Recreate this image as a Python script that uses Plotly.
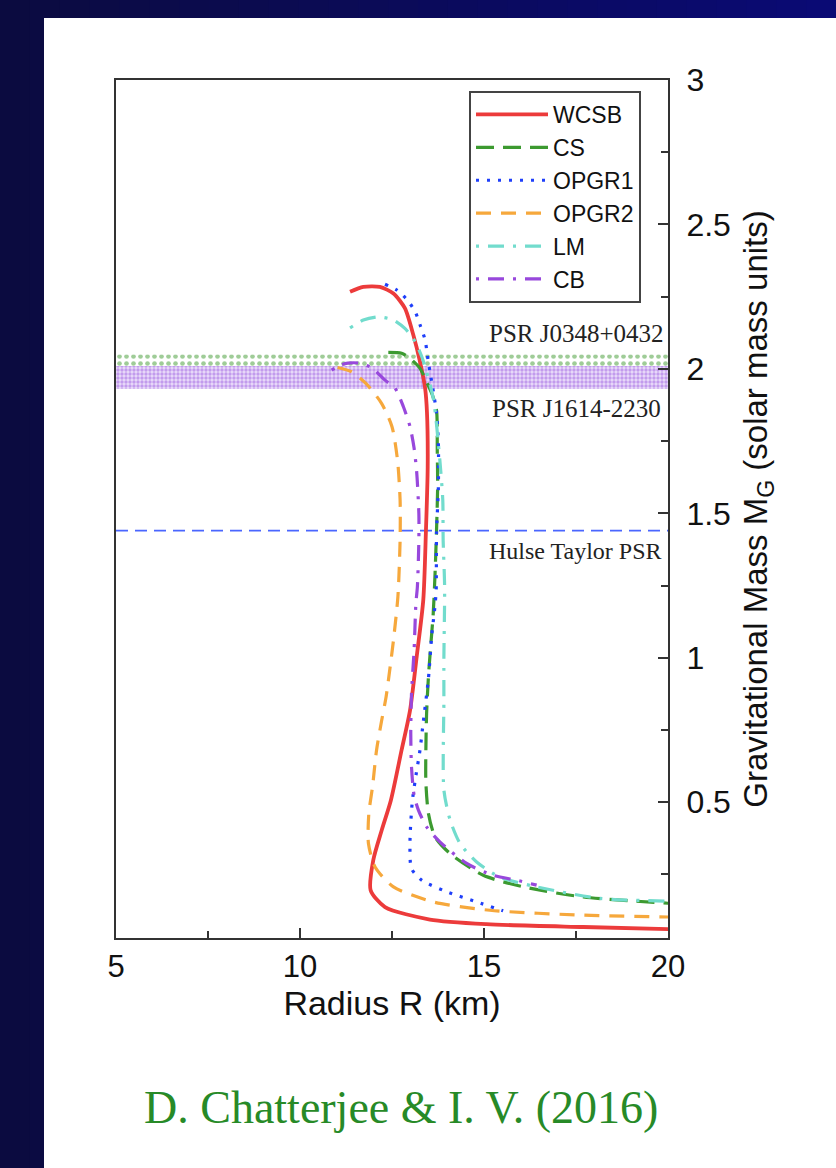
import plotly.graph_objects as go

# Mass-radius sequences (R in km, M in solar masses), high-mass end first
wcsb_r = [11.36, 11.72, 12.17, 12.54, 12.85, 13.08, 13.26, 13.40, 13.45, 13.47, 13.42, 13.35,
          13.17, 12.99, 12.76, 12.47, 12.22, 11.99, 11.92, 12.31, 13.53, 15.07, 17.70, 20.3]
wcsb_m = [2.267, 2.284, 2.284, 2.261, 2.21, 2.117, 2.025, 1.933, 1.85, 1.66, 1.431, 1.20,
          1.003, 0.818, 0.680, 0.507, 0.403, 0.299, 0.195, 0.137, 0.094, 0.078, 0.068, 0.060]

cs_r = [12.40, 12.76, 12.99, 13.26, 13.44, 13.60, 13.71, 13.73, 13.74, 13.71, 13.67, 13.62,
        13.55, 13.49, 13.44, 13.42, 13.42, 13.49, 13.67, 14.08, 14.98, 16.07, 17.70, 20.3]
cs_m = [2.057, 2.054, 2.036, 2.002, 1.955, 1.909, 1.857, 1.719, 1.592, 1.442, 1.292, 1.153,
        1.038, 0.934, 0.807, 0.68, 0.57, 0.461, 0.38, 0.322, 0.247, 0.207, 0.172, 0.148]

opgr1_r = [12.31, 12.63, 12.92, 13.13, 13.28, 13.40, 13.46, 13.53, 13.60, 13.71, 13.76, 13.76,
           13.71, 13.70, 13.67, 13.58, 13.49, 13.35, 13.26, 13.13, 13.05, 12.99, 13.03, 13.31,
           13.99, 14.80, 15.52]
opgr1_m = [2.293, 2.273, 2.238, 2.198, 2.146, 2.10, 2.048, 1.99, 1.94, 1.846, 1.743, 1.592,
           1.431, 1.234, 1.182, 1.078, 0.928, 0.778, 0.68, 0.576, 0.50, 0.368, 0.27, 0.23,
           0.19, 0.155, 0.124]

opgr2_r = [11.02, 11.40, 11.79, 12.22, 12.50, 12.65, 12.72, 12.72, 12.66, 12.54, 12.45, 12.34,
           12.22, 12.08, 11.97, 11.87, 11.86, 12.04, 12.54, 13.62, 15.16, 17.70, 20.3]
opgr2_m = [2.005, 1.99, 1.95, 1.88, 1.80, 1.684, 1.546, 1.407, 1.211, 1.061, 0.969, 0.865,
           0.784, 0.68, 0.553, 0.461, 0.357, 0.276, 0.207, 0.155, 0.126, 0.109, 0.102]

lm_r = [11.36, 11.72, 12.13, 12.54, 12.85, 13.13, 13.31, 13.44, 13.63, 13.80, 13.88, 13.89,
        13.93, 13.91, 13.91, 13.91, 14.08, 14.35, 14.80, 15.43, 16.43, 18.15, 20.3]
lm_m = [2.142, 2.169, 2.18, 2.169, 2.14, 2.094, 2.042, 1.99, 1.892, 1.684, 1.546, 1.407,
        1.246, 1.0, 0.853, 0.542, 0.438, 0.357, 0.293, 0.241, 0.207, 0.167, 0.157]

cb_r = [10.86, 11.09, 11.30, 11.60, 11.96, 12.31, 12.58, 12.81, 12.99, 13.10, 13.17, 13.23,
        13.23, 13.19, 13.15, 13.10, 13.03, 13.01, 13.03, 13.10, 13.22, 13.44, 13.80, 14.53,
        15.25, 15.89, 16.43]
cb_m = [1.996, 2.013, 2.02, 2.02, 2.003, 1.961, 1.934, 1.869, 1.80, 1.726, 1.644, 1.50,
        1.407, 1.246, 1.189, 1.026, 0.876, 0.738, 0.622, 0.524, 0.472, 0.415, 0.363, 0.288,
        0.247, 0.23, 0.213]

# Observed pulsar masses
psr_j0348 = (2.01, 0.04)
psr_j1614 = (1.97, 0.04)
hulse_taylor = 1.44

R_MIN, R_MAX = 5, 20
M_MIN, M_MAX = 0.03, 3

series = [
    ("WCSB", wcsb_r, wcsb_m, "#ec3b3b", "solid", 3.8),
    ("CS", cs_r, cs_m, "#3c9a30", "18px,9px", 3.2),
    ("OPGR1", opgr1_r, opgr1_m, "#1f3ffa", "3px,8px", 3.2),
    ("OPGR2", opgr2_r, opgr2_m, "#f6a83c", "15px,10px", 3.2),
    ("LM", lm_r, lm_m, "#72dccd", "3px,9px,16px,9px", 3.2),
    ("CB", cb_r, cb_m, "#9848dc", "3px,9px,16px,9px", 3.2),
]

fig = go.Figure()


# Mass bands of the two heavy pulsars
def band(center, err, color, bg, size, solidity):
    lo, hi = center - err, center + err
    fig.add_trace(go.Scatter(
        x=[R_MIN, R_MAX, R_MAX, R_MIN, R_MIN], y=[lo, lo, hi, hi, lo],
        mode="lines", line=dict(width=0), fill="toself", fillcolor="rgba(255,255,255,0)",
        fillpattern=dict(shape=".", fgcolor=color, bgcolor=bg, size=size, solidity=solidity),
        showlegend=False, hoverinfo="skip"))


band(*psr_j0348, "#3f9a30", "rgba(255,255,255,0)", 7, 0.35)
band(*psr_j1614, "#9a5ae0", "#eadcfa", 4, 0.55)

# Hulse-Taylor pulsar mass
fig.add_trace(go.Scatter(
    x=[R_MIN, R_MAX], y=[hulse_taylor, hulse_taylor], mode="lines",
    line=dict(color="#4a66ff", width=1.6, dash="12px,7px"),
    showlegend=False, hoverinfo="skip"))

for name, r, m, color, dash, w in series:
    fig.add_trace(go.Scatter(
        x=r, y=m, mode="lines", name=name,
        line=dict(color=color, width=w, dash=dash, shape="spline", smoothing=0.7)))

serif = "Liberation Serif, Times New Roman, serif"
sans = "Liberation Sans, Arial, Helvetica, sans-serif"

annotations = [
    dict(x=R_MAX, y=2.124, xref="x", yref="y", text="PSR J0348+0432", showarrow=False,
         xanchor="right", xshift=-2, font=dict(family=serif, size=25, color="#222")),
    dict(x=R_MAX, y=1.864, xref="x", yref="y", text="PSR J1614-2230", showarrow=False,
         xanchor="right", xshift=-5, font=dict(family=serif, size=25, color="#222")),
    dict(x=R_MAX, y=1.369, xref="x", yref="y", text="Hulse Taylor PSR", showarrow=False,
         xanchor="right", xshift=-4, font=dict(family=serif, size=24, color="#222")),
    dict(x=0.516, y=-0.198, xref="paper", yref="paper", text="D. Chatterjee &amp; I. V. (2016)",
         showarrow=False, xanchor="center", yanchor="middle",
         font=dict(family=serif, size=46, color="#278a27")),
]

# Slide background: dark blue gradient frame with a white panel
W, H = 836, 1168
L, R, T, B = 116, 168, 80, 230
pw, ph = W - L - R, H - T - B


def px_x(px):
    return (px - L) / pw


def px_y(py):
    return (H - B - py) / ph


shapes = []
n = 28
c0, c1 = (11, 11, 64), (10, 10, 116)
for i in range(n):
    t = i / (n - 1)
    col = "rgb({},{},{})".format(*[int(round(a + (b - a) * t)) for a, b in zip(c0, c1)])
    shapes.append(dict(type="rect", xref="paper", yref="paper", layer="below",
                       x0=px_x(W * i / n), x1=px_x(W * (i + 1) / n + 1),
                       y0=px_y(H), y1=px_y(0), fillcolor=col, line=dict(width=0)))
shapes.append(dict(type="rect", xref="paper", yref="paper", layer="below",
                   x0=px_x(44), x1=px_x(W + 2), y0=px_y(H + 2), y1=px_y(18),
                   fillcolor="white", line=dict(width=0)))

fig.update_layout(
    width=W, height=H,
    margin=dict(l=L, r=R, t=T, b=B, pad=0),
    paper_bgcolor="#0b0b4a", plot_bgcolor="white",
    shapes=shapes, annotations=annotations,
    font=dict(family=sans, color="#111"),
    legend=dict(x=px_x(469), y=px_y(91), xanchor="left", yanchor="top",
                bgcolor="white", bordercolor="#444", borderwidth=2,
                font=dict(family=sans, size=23, color="#111"), itemwidth=72,
                entrywidth=185, entrywidthmode="pixels"),
    xaxis=dict(range=[R_MIN, R_MAX], dtick=5, tick0=5, showgrid=False, zeroline=False,
               showline=True, linecolor="#333", linewidth=2, mirror=True,
               ticks="inside", ticklen=10, tickwidth=1.5, tickcolor="#333",
               minor=dict(dtick=2.5, ticks="inside", ticklen=7, tickwidth=1.5, tickcolor="#333"),
               tickfont=dict(family=sans, size=31, color="#111"),
               title=dict(text="Radius R (km)", font=dict(family=sans, size=34, color="#111"),
                          standoff=6)),
    yaxis=dict(range=[M_MIN, M_MAX], side="right", dtick=0.5, tick0=0, showgrid=False,
               zeroline=False, showline=True, linecolor="#333", linewidth=2, mirror=True,
               ticks="inside", ticklen=10, tickwidth=1.5, tickcolor="#333",
               minor=dict(dtick=0.25, ticks="inside", ticklen=7, tickwidth=1.5, tickcolor="#333"),
               tickfont=dict(family=sans, size=32, color="#111"), ticklabelstandoff=10,
               title=dict(text="Gravitational Mass M<sub>G</sub> (solar mass units)",
                          font=dict(family=sans, size=33, color="#111"), standoff=14)),
)

fig.write_html("out.html")
